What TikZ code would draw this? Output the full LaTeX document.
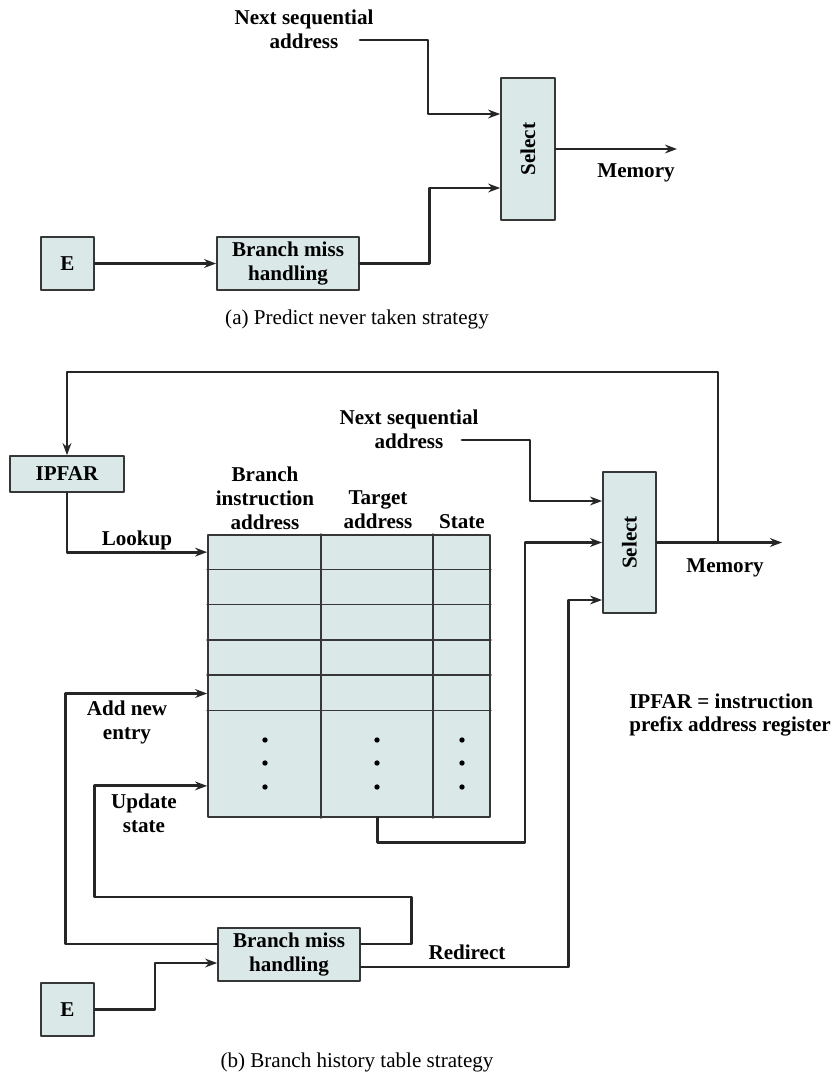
\documentclass[tikz,border=0pt]{standalone}
\usepackage{graphicx}
\usepackage{fontspec}
\setmainfont{Liberation Serif}
\usetikzlibrary{arrows.meta,calc}
\definecolor{boxfill}{RGB}{218,232,232}
\definecolor{boxline}{RGB}{55,55,55}

\begin{document}
\begin{tikzpicture}[x=0.025cm,y=-0.025cm,>={Stealth[length=3mm,width=2.2mm]},line cap=round,line join=round,
  box/.style={draw=boxline,fill=boxfill,line width=1.2pt,inner sep=0pt,align=center,font=\fontsize{15}{17}\selectfont\bfseries},
  wire/.style={line width=2pt,draw=black!85},
  grid line/.style={draw=boxline,line width=1.2pt},
  lbl/.style={inner sep=0pt,align=center,font=\fontsize{15}{17}\selectfont\bfseries},
  capt/.style={inner sep=0pt,font=\fontsize{15}{17}\selectfont}]
\useasboundingbox (0,0) rectangle (832,1080);
% (a) predict never taken
\node[box,minimum width=1.35cm,minimum height=3.55cm] (sel1) at (528,149) {\rotatebox{90}{Select}};
\node[box,minimum size=1.33cm] (e1) at (67.5,263.5) {E};
\node[box,minimum width=3.55cm,minimum height=1.33cm] (bmh1) at (288,263.5) {Branch miss\\handling};
\node[lbl] (nsl1) at (304,29.5) {Next sequential\\address};
\coordinate (ns1) at (360,40);
\coordinate (mem1) at (677,149);
\node[lbl] (meml1) at (636,173) {Memory};
\node[capt] (capa) at (357,319) {(a) Predict never taken strategy};
\draw[wire,->] (ns1) -- ++(68,0) |- ($(sel1.west)+(0,-35)$);
\draw[wire,->] (e1) -- (bmh1);
\draw[wire,->] (bmh1.east) -- ++(70,0) |- ($(sel1.west)+(0,39)$);
\draw[wire,->] (sel1) -- (mem1);
% (b) branch history table
\node[box,minimum width=2.85cm,minimum height=0.9cm] (ipfar) at (67,474) {IPFAR};
\node[box,minimum width=7.05cm,minimum height=7.05cm] (tbl) at (349,676) {};
\foreach \i in {1,...,5}
  \draw[grid line] ($(tbl.north west)+(0,35.25*\i)$) -- ($(tbl.north east)+(0,35.25*\i)$);
\draw[grid line] ($(tbl.north west)+(114,0)$) -- ($(tbl.south west)+(114,0)$);
\draw[grid line] ($(tbl.north west)+(226,0)$) -- ($(tbl.south west)+(226,0)$);
\foreach \x in {265,377,462}
  \foreach \y in {740,763,787}
    \fill (\x,\y) circle (1.9pt);
\node[lbl] (hbia) at (265,498) {Branch\\instruction\\address};
\node[lbl] (hta) at (378,510) {Target\\address};
\node[lbl] (hst) at (462,522) {State};
\node[box,minimum width=1.33cm,minimum height=3.53cm] (sel2) at (629.5,542.5) {\rotatebox{90}{Select}};
\node[box,minimum width=3.55cm,minimum height=1.33cm] (bmh2) at (289,954.5) {Branch miss\\handling};
\node[box,minimum size=1.33cm] (e2) at (67.5,1009.5) {E};
\node[lbl] (nsl2) at (409,429.5) {Next sequential\\address};
\coordinate (ns2) at (462,440);
\coordinate (tap) at (718,542.5);
\coordinate (mem2) at (782,542.5);
\node[lbl] (meml2) at (725,568) {Memory};
\node[lbl] (lookl) at (137,540) {Lookup};
\node[lbl] (addl) at (127,722.5) {Add new\\entry};
\node[lbl] (updl) at (144,813) {Update\\state};
\node[lbl] (redl) at (467,952) {Redirect};
\node[lbl,anchor=west,align=left] (note) at (629,715) {IPFAR = instruction\\prefix address register};
\node[capt] (capb) at (357,1062) {(b) Branch history table strategy};
\draw[wire,->] (sel2) -- (mem2);
\draw[wire,->] (tap) -- ++(0,-170.5) -| (ipfar.north);
\draw[wire,->] (ipfar.south) |- ($(tbl.north west)+(0,18)$);
\draw[wire,->] (ns2) -- ++(68,0) |- ($(sel2.west)+(0,-41.5)$);
\draw[wire,->] ($(tbl.south)+(28.5,0)$) -- ++(0,25) -| ($(sel2.west)+(-77,0)$) -- (sel2.west);
\draw[wire,->] ($(bmh2.east)+(0,12.5)$) -- ++(208,0) |- ($(sel2.west)+(0,57.5)$);
\draw[wire,->] ($(bmh2.west)+(0,-10.5)$) -| ($(tbl.west)+(-142,17.5)$) -- ($(tbl.west)+(0,17.5)$);
\draw[wire,->] ($(bmh2.east)+(0,-10.5)$) -- ++(51,0) -- ++(0,-47) -| ($(tbl.south west)+(-113,-32)$) -- ($(tbl.south west)+(0,-32)$);
\draw[wire,->] (e2.east) -- ++(60,0) |- ($(bmh2.west)+(0,8.5)$);
\end{tikzpicture}
\end{document}
